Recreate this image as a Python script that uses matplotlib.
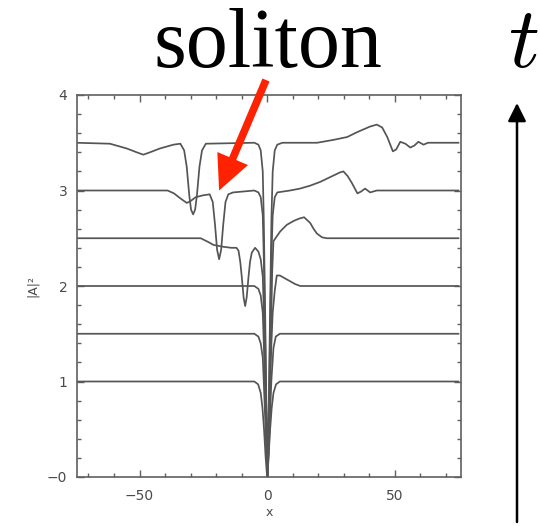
import matplotlib
matplotlib.use("Agg")
import matplotlib.pyplot as plt
from matplotlib.ticker import MultipleLocator

plt.rcParams["mathtext.fontset"] = "cm"

# ---- data (|A|^2 snapshots, stacked in time) ----
c1_x = [-75, -5, -3.5, -2.5, -1.8, -1.2, -0.6, 0, 0.6, 1.2, 1.8, 2.5, 3.5, 5, 75]
c1_y = [1.0, 1.0, 0.97, 0.88, 0.72, 0.5, 0.22, 0.0, 0.22, 0.5, 0.72, 0.88, 0.97, 1.0, 1.0]

c2_x = [-75, -5, -3.4, -2.5, -1.7, -1.3, -0.8, -0.3, 0.2, 0.7, 1.2, 1.7, 2.5, 3.4, 5, 75]
c2_y = [1.5, 1.5, 1.47, 1.4, 1.25, 1.0, 0.65, 0.28, 0.0, 0.3, 0.68, 1.02, 1.35, 1.47, 1.5, 1.5]

c3_x = [-75, -5, -3.4, -2.5, -1.7, -1.3, -0.8, -0.3, 0.2, 0.7, 1.2, 1.7, 2.2, 3.0,
        3.8, 5, 7, 9, 11, 13, 75]
c3_y = [2.0, 2.0, 1.97, 1.9, 1.72, 1.4, 0.95, 0.45, 0.0, 0.45, 0.95, 1.4, 1.72, 1.95,
        2.11, 2.11, 2.08, 2.05, 2.02, 2.0, 2.0]

c4_x = [-75, -26, -23, -21, -17, -14, -12, -11.2, -10.5, -9.9, -9.2, -8.6, -8.0, -7.3,
        -6.7, -6.0, -4.7, -3.4, -2.5, -1.7, -1.3, -0.8, -0.3, 0.2, 0.7, 1.2, 1.7, 2.0,
        2.5, 5.1, 7.7, 10.3, 12.5, 14.5, 16.9, 18.2, 19.5, 21.5, 23.4, 75]
c4_y = [2.5, 2.5, 2.46, 2.43, 2.41, 2.40, 2.40, 2.37, 2.25, 2.09, 1.88, 1.79, 1.88, 2.09,
        2.25, 2.35, 2.40, 2.36, 2.28, 2.1, 1.75, 1.2, 0.55, 0.0, 0.55, 1.2, 1.75, 2.15,
        2.47, 2.57, 2.64, 2.68, 2.705, 2.72, 2.66, 2.60, 2.55, 2.51, 2.5, 2.5]

c5_x = [-75, -39, -36.5, -34.1, -31.5, -30.2, -28, -25, -22.5, -21.3, -20.4, -19.6,
        -18.8, -18.0, -17.2, -16.3, -15.2, -13.3, -5, -3.4, -2.5, -1.7, -1.3, -0.8,
        -0.3, 0.2, 0.7, 1.2, 1.7, 2.2, 3.0, 4.0, 9, 12.9, 16.8, 20.8, 24.7, 28.6, 29.9,
        31.6, 33.2, 35.4, 36.9, 38.4, 40.4, 43, 75]
c5_y = [3.0, 3.0, 2.97, 2.92, 2.87, 2.885, 2.93, 2.95, 2.96, 2.88, 2.64, 2.38,
        2.28, 2.38, 2.64, 2.88, 2.96, 2.98, 3.0, 2.98, 2.93, 2.74, 2.31, 1.54,
        0.69, 0.0, 0.69, 1.54, 2.31, 2.74, 2.93, 2.98, 3.0, 3.02, 3.05, 3.09, 3.14, 3.19, 3.20,
        3.15, 3.08, 2.97, 2.99, 3.02, 2.98, 3.0, 3.0]

c6_x = [-75, -61.6, -55.0, -51.1, -48.5, -45.9, -42.0, -36.7, -34, -32.5, -31.5,
        -30.5, -29.8, -29, -28.2, -27.5, -26.5, -25.5, -24, -5, -3.4, -2.5, -1.7,
        -1.3, -0.8, -0.3, 0.2, 0.7, 1.2, 1.7, 2.2, 3.0, 4.0, 6, 19.6, 26.0, 31.4,
        35.2, 40.4, 43.0, 45.1, 47.1, 49.3, 50.6, 52.2, 54.2, 56.1, 57.7, 59.3,
        61.3, 63.1, 75]
c6_y = [3.5, 3.49, 3.44, 3.40, 3.375, 3.40, 3.44, 3.48, 3.49, 3.42, 3.25,
        2.95, 2.8, 2.75, 2.8, 2.95, 3.25, 3.42, 3.49, 3.5, 3.48, 3.42, 3.2,
        2.7, 1.8, 0.8, 0.0, 0.8, 1.8, 2.7, 3.2, 3.42, 3.48, 3.5, 3.5, 3.53, 3.56,
        3.61, 3.67, 3.69, 3.66, 3.56, 3.41, 3.43, 3.51, 3.49, 3.45, 3.47, 3.51,
        3.48, 3.5, 3.5]

curves = [(c1_x, c1_y), (c2_x, c2_y), (c3_x, c3_y), (c4_x, c4_y), (c5_x, c5_y), (c6_x, c6_y)]

xticks = [-50, 0, 50]
xticklabels = ["\u221250", "0", "50"]
yticks = [0, 1, 2, 3, 4]
yticklabels = ["\u22120", "1", "2", "3", "4"]

# ---- figure ----
W, H = 540, 526
fig = plt.figure(figsize=(W / 100, H / 100), dpi=100)
ax = fig.add_axes([77 / W, 1 - 477 / H, (461 - 77) / W, (477 - 95) / H])

line_col = "#555555"
for cx, cy in curves:
    ax.plot(cx, cy, color=line_col, lw=1.25, solid_joinstyle="round")

ax.set_xlim(-74.5, 76)
ax.set_ylim(0, 4)
ax.set_xticks(xticks)
ax.set_xticklabels(xticklabels)
ax.set_yticks(yticks)
ax.set_yticklabels(yticklabels)
ax.xaxis.set_minor_locator(MultipleLocator(10))
ax.yaxis.set_minor_locator(MultipleLocator(0.2))

spine_col = "#606060"
lab_col = "#4a4a4a"
for s in ax.spines.values():
    s.set_color(spine_col)
    s.set_linewidth(1.2)
ax.tick_params(which="both", direction="in", top=True, right=True, color=spine_col,
               labelcolor=lab_col, labelsize=10)
ax.tick_params(which="major", length=5, width=1)
ax.tick_params(which="minor", length=3, width=1)
ax.tick_params(axis="x", pad=9)
ax.tick_params(axis="y", pad=7)

ax.set_xlabel("x", fontsize=9, color=lab_col, labelpad=2)
ax.set_ylabel("|A|\u00b2", fontsize=9, color=lab_col, labelpad=6)

# red arrow pointing at the soliton
ax.annotate("", xy=(-18.8, 3.0), xytext=(266 / W, 1 - 80 / H),
            textcoords="figure fraction", annotation_clip=False,
            arrowprops=dict(arrowstyle="simple,head_width=2.4,head_length=2.5,tail_width=0.55",
                            color="#ff2200", lw=0, shrinkA=0, shrinkB=0,
                            mutation_scale=10))

fig.text(268 / W, 1 - 67 / H, "soliton", fontsize=60.5, family="Liberation Serif",
         ha="center", va="baseline", color="black")
fig.text(523 / W, 1 - 67 / H, "$t$", fontsize=62,
         ha="center", va="baseline", color="black")

# time arrow
fig.add_artist(matplotlib.patches.FancyArrowPatch(
    (517 / W, 1 - 522 / H), (517 / W, 1 - 103 / H), transform=fig.transFigure,
    arrowstyle="-|>,head_width=0.55,head_length=1.1", mutation_scale=10,
    color="black", lw=1.8, shrinkA=0, shrinkB=0))

fig.savefig("out.png", dpi=100)
